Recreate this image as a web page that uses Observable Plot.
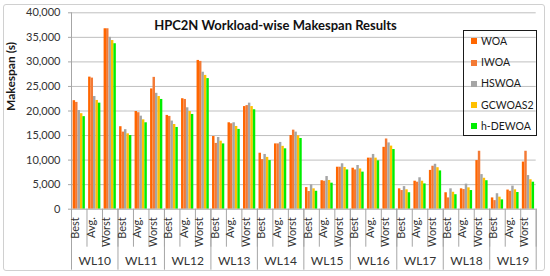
<!DOCTYPE html>
<html><head><meta charset="utf-8">
<script src="https://cdn.jsdelivr.net/npm/d3@7"></script>
<script src="https://cdn.jsdelivr.net/npm/@observablehq/plot@0.6"></script>
<style>
html,body{margin:0;padding:0;background:#fff;}
#wrap{position:relative;width:550px;height:276px;font-family:Lato,sans-serif;}
#frame{position:absolute;left:3px;top:4px;width:540px;height:265px;border:1px solid #d0d0d0;border-radius:3px;pointer-events:none;}
#title{position:absolute;left:0;top:19px;width:551px;text-align:center;font:bold 13px/13px Lato,sans-serif;color:#111;}
#legend{position:absolute;left:463px;top:30px;width:72px;height:104px;border:1px solid #1a1a1a;font:10.5px Lato,sans-serif;color:#1a1a1a;}
.item{height:21.2px;line-height:21.2px;padding-left:7px;white-space:nowrap;}
.sw{display:inline-block;width:6px;height:6px;margin-right:4px;vertical-align:middle;position:relative;top:-1px;}
</style></head>
<body>
<div id="wrap"><div id="chart"></div><div id="frame"></div><div id="title"></div><div id="legend"></div></div>
<script>
const titleText = "HPC2N Workload-wise Makespan Results";
const yLabel = "Makespan (s)";
const workloads = ["WL10","WL11","WL12","WL13","WL14","WL15","WL16","WL17","WL18","WL19"];
const stats = ["Best","Avg.","Worst"];
const algorithms = ["WOA","IWOA","HSWOA","GCWOAS2","h-DEWOA"];
const colors = ["#FF6600","#F37A35","#A5A5A5","#FFC000","#00EE00"];
const yTicks = [0,5000,10000,15000,20000,25000,30000,35000,40000];

// values per algorithm: WL10 Best, Avg., Worst, WL11 Best, ...
const WOA     = [22100,26900,36750, 16800,19900,24500, 19100,22500,30300, 14800,17600,20900, 11400,13300,15000, 4400,5800,8550, 8350,10400,12600, 4150,5700,7900, 3350,4150,9900, 2300,3900,9600];
const IWOA    = [21750,26700,36750, 15700,19650,26850, 18900,22350,30100, 13400,17400,21100, 10100,13300,16100, 3600,5700,8550, 8000,10400,14300, 3800,5500,8750, 2300,4000,11800, 1750,3650,11800];
const HSWOA   = [20100,22950,35000, 16200,18950,23600, 17950,20650,27900, 14600,17600,21600, 11150,13600,15700, 4950,6650,9250, 8900,11150,13500, 4600,6400,9150, 4150,5100,7050, 3150,4700,6850];
const GCWOAS2 = [19450,22150,34350, 15350,18200,22950, 17250,19900,27250, 13850,16850,20900, 10550,12800,14950, 4150,5850,8500, 8200,10400,12850, 3950,5700,8450, 3450,4350,6300, 2450,3950,6000];
const hDEWOA  = [18850,21600,33700, 15000,17600,22350, 16650,19300,26600, 13300,16250,20250, 9900,12300,14400, 3650,5300,8000, 7550,9850,12150, 3350,5150,7800, 2950,3800,5800, 1900,3400,5500];
const series = [WOA, IWOA, HSWOA, GCWOAS2, hDEWOA];

const nGroups = workloads.length * stats.length;
const pad = 0.105, bw = 0.158;
const rows = [], groups = [], wlLabels = [];
workloads.forEach((wl, w) => {
  wlLabels.push({wl, xc: w * stats.length + stats.length / 2});
  stats.forEach((stat, s) => {
    const g = w * stats.length + s;
    groups.push({stat, xc: g + 0.5});
    algorithms.forEach((alg, a) => {
      rows.push({wl, stat, alg, value: series[a][g], x1: g + pad + a * bw, x2: g + pad + (a + 1) * bw});
    });
  });
});

const axisGray = "#a6a6a6";
const fmt = d3.format(",");
const chart = Plot.plot({
  width: 550, height: 276,
  marginLeft: 71, marginRight: 14.3, marginTop: 12.3, marginBottom: 67.3,
  style: {fontFamily: "Lato, sans-serif", fontSize: "11px", color: "#404040", background: "transparent", overflow: "visible"},
  x: {domain: [0, nGroups], axis: null},
  y: {domain: [0, 40000], axis: null},
  color: {domain: algorithms, range: colors},
  marks: [
    Plot.gridY(yTicks.filter(d => d > 0), {stroke: "#bfbfbf", strokeOpacity: 1}),
    Plot.rectY(rows, {x1: "x1", x2: "x2", y: "value", fill: "alg"}),
    Plot.ruleY([0], {stroke: axisGray}),
    Plot.ruleX([0], {stroke: axisGray}),
    Plot.axisY({ticks: yTicks, tickFormat: d => fmt(d), tickSize: 3, tickPadding: 8, stroke: axisGray, fill: "#333", fontSize: 11, label: null}),
    Plot.axisX({ticks: d3.range(0, nGroups + 1), tickSize: 38, stroke: axisGray, fill: "none", label: null}),
    Plot.axisX({ticks: d3.range(0, nGroups + 1, stats.length), tickSize: 61, stroke: axisGray, fill: "none", label: null}),
    Plot.text(groups, {x: "xc", text: "stat", frameAnchor: "bottom", dy: 8, rotate: -90, textAnchor: "end", fontSize: 11, fill: "#333"}),
    Plot.text(wlLabels, {x: "xc", text: "wl", frameAnchor: "bottom", dy: 56, fontSize: 12, fill: "#333"}),
    Plot.text([yLabel], {frameAnchor: "left", dx: -60, rotate: -90, fontWeight: "bold", fontSize: 12, fill: "#1a1a1a"})
  ]
});
document.getElementById("chart").appendChild(chart);
document.getElementById("title").textContent = titleText;
const legend = document.getElementById("legend");
algorithms.forEach((alg, i) => {
  const item = document.createElement("div");
  item.className = "item";
  const sw = document.createElement("span");
  sw.className = "sw";
  sw.style.background = colors[i];
  item.appendChild(sw);
  item.appendChild(document.createTextNode(alg));
  legend.appendChild(item);
});
</script>
</body></html>
